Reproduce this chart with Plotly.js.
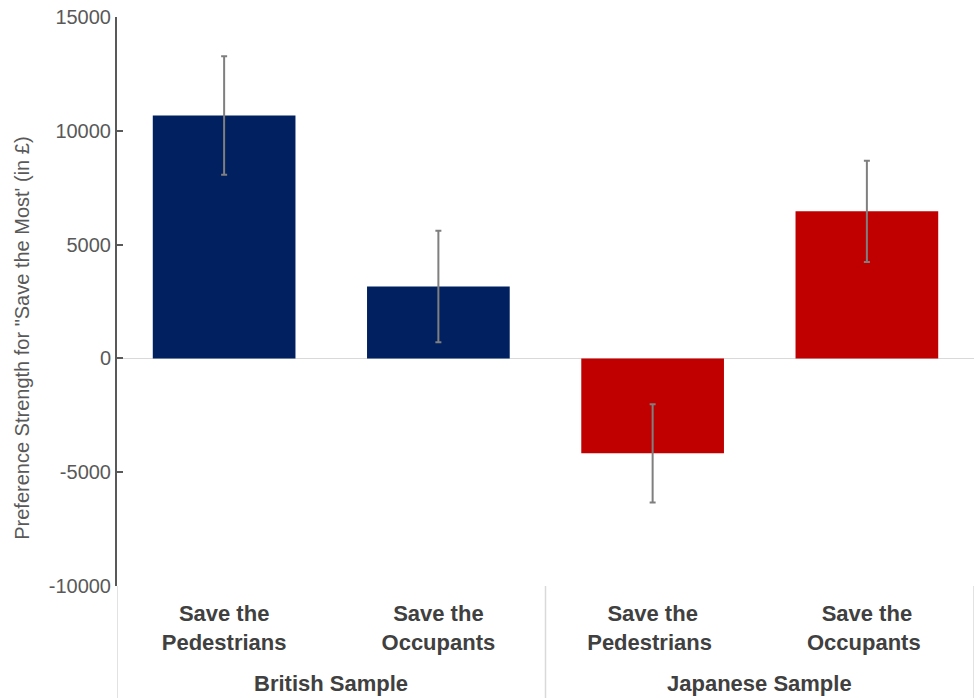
<!DOCTYPE html>
<html>
<head>
<meta charset="utf-8">
<script src="https://cdn.plot.ly/plotly-3.0.1.min.js"></script>
<style>html,body{margin:0;padding:0;background:#fff;}#chart{width:974px;height:698px;}</style>
</head>
<body>
<div id="chart"></div>
<script>
const groups = ["British Sample", "British Sample", "Japanese Sample", "Japanese Sample"];
const conditions = ["Save the<br>Pedestrians", "Save the<br>Occupants", "Save the<br>Pedestrians ", "Save the<br>Occupants "];
const values = [10670, 3160, -4170, 6460];
const errors = [2600, 2450, 2160, 2220];
const barColors = ["#002060", "#002060", "#C00000", "#C00000"];
const yTicks = [-10000, -5000, 0, 5000, 10000, 15000];
const yTitle = "Preference Strength for \"Save the Most' (in £)";

const trace = {
  type: "bar",
  x: conditions,
  y: values,
  marker: { color: barColors, line: { width: 0 } },
  width: 0.666,
  error_y: { type: "data", array: errors, visible: true, color: "#7f7f7f", thickness: 2, width: 3 },
  hoverinfo: "y"
};

// group label annotations and divider shapes, derived from the groups array
const groupNames = [...new Set(groups)];
const annotations = groupNames.map(g => {
  const idx = groups.map((v, i) => v === g ? i : -1).filter(i => i >= 0);
  const center = (idx[0] + idx[idx.length - 1]) / 2;
  return {
    text: g, xref: "x", yref: "paper", x: center, y: -0.172,
    xanchor: "center", yanchor: "middle", showarrow: false,
    font: { size: 22, color: "#404040", family: "Liberation Sans, Arial, sans-serif", weight: "bold" }
  };
});
const boundaries = [-0.5];
groups.forEach((g, i) => { if (i === groups.length - 1 || groups[i + 1] !== g) boundaries.push(i + 0.5); });
const shapes = boundaries.map(b => ({
  type: "line", xref: "x", yref: "paper", x0: b, x1: b, y0: 0, y1: -0.197,
  line: { color: "#d9d9d9", width: 1.5 }
}));

annotations.push({
  text: yTitle,
  xref: "paper", yref: "paper",
  x: -0.111, y: 0.436,
  xanchor: "center", yanchor: "middle",
  textangle: -90,
  showarrow: false,
  font: { size: 20, color: "#595959" }
});

const layout = {
  width: 974,
  height: 698,
  margin: { l: 117, r: 0, t: 17, b: 112 },
  paper_bgcolor: "#ffffff",
  plot_bgcolor: "#ffffff",
  showlegend: false,
  font: { family: "Liberation Sans, Arial, sans-serif", color: "#595959" },
  xaxis: {
    type: "category",
    range: [-0.5, 3.5],
    showline: false,
    showgrid: false,
    ticks: "",
    ticklabelstandoff: 12,
    tickfont: { size: 22, color: "#404040", family: "Liberation Sans, Arial, sans-serif", weight: "bold" }
  },
  yaxis: {
    range: [-10000, 15000],
    tickmode: "array",
    tickvals: yTicks,
    ticktext: yTicks.map(String),
    showgrid: false,
    zeroline: true,
    zerolinecolor: "#d9d9d9",
    zerolinewidth: 1.5,
    showline: true,
    linecolor: "#595959",
    linewidth: 2,
    ticks: "inside",
    ticklen: 6,
    tickwidth: 2,
    tickcolor: "#595959",
    ticksuffix: "\u00a0\u00a0\u00a0",
    tickfont: { size: 20, color: "#595959" }
  },
  annotations: annotations,
  shapes: shapes
};

Plotly.newPlot("chart", [trace], layout, { displayModeBar: false, staticPlot: true });
</script>
</body>
</html>
